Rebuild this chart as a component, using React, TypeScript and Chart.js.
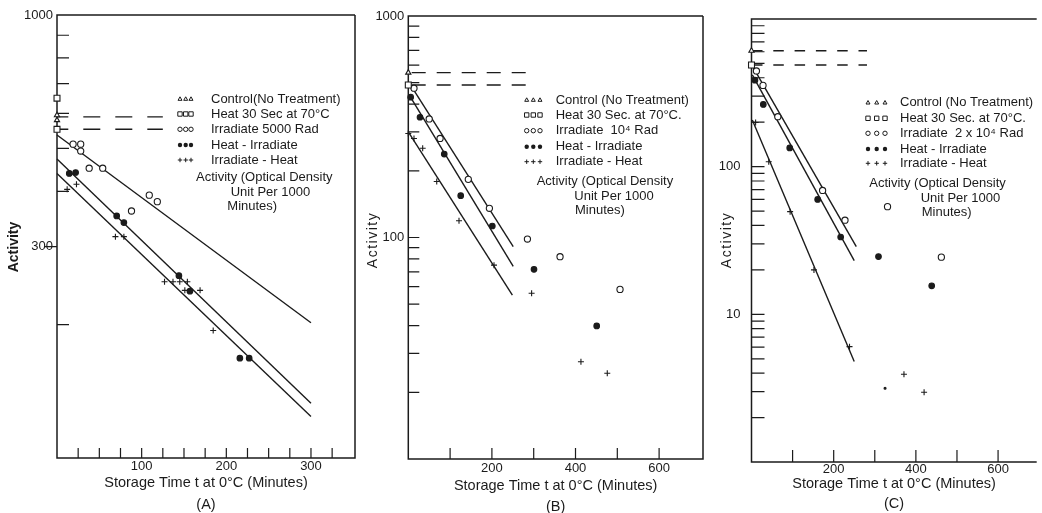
import React, { useEffect, useRef } from 'react';
import { Chart, registerables } from 'chart.js';

Chart.register(...registerables);

const W = 1042;
const H = 513;
const FONT = '"Liberation Sans", Arial, sans-serif';
const INK = '#1b1b1b';

// ---------- Panel A: Irradiate 5000 Rad ----------
const tA_irr = [19, 28, 28, 38, 54, 88, 109, 118.5];
const vA_irr = [511, 511, 493, 451, 451, 361, 392, 379];
const tA_hi = [14.5, 22, 70.5, 79, 144, 157, 216, 227];
const vA_hi = [439, 441, 352, 340, 258, 238, 168, 168];
const tA_ih = [12, 23, 69, 79, 127, 137, 145, 154, 151, 169, 184.5];
const vA_ih = [404, 415, 316, 316, 250, 250, 250, 250, 239, 239, 194];
const vA_control = [594, 579];
const vA_heat = [649, 552];
const vA_levels = [589, 552];
const tA_levelEnd = 125;
const tA_fit = [0, 300];
const vA_fitIrr = [536, 202];
const vA_fitHi = [473, 133];
const vA_fitIh = [439, 124];
const xTicksA = [25, 50, 75, 100, 125, 150, 175, 200, 225, 250, 275, 300, 325];
const xLabelsA = [100, 200, 300];
const yTicksA = [200, 400, 500, 600, 700, 800, 900];
const yOuterTicksA = [300];
const yLabelsA = [300, 1000];
const legendA = ['Control(No Treatment)', 'Heat 30 Sec at 70°C', 'Irradiate 5000 Rad', 'Heat - Irradiate', 'Irradiate - Heat'];

// ---------- Panel B: Irradiate 10^4 Rad ----------
const tB_irr = [13.6, 50, 76, 143.5, 194, 285, 363, 506.5];
const vB_irr = [472, 343, 280, 183, 135.5, 98.4, 81.9, 58.3];
const tB_hi = [5.7, 28, 86, 125.4, 201, 300.7, 450.7];
const vB_hi = [430, 349, 238, 154.5, 112.7, 71.8, 39.9];
const tB_ih = [0, 13.6, 34.4, 68, 121.3, 205, 295, 413, 476];
const vB_ih = [295, 280, 253, 179, 119, 75, 56, 27.5, 24.4];
const vB_control = [555];
const vB_heat = [488];
const vB_levels = [555, 488];
const tB_levelEnd = 298;
const tB_fitIrr = [4, 251];
const vB_fitIrr = [493, 91];
const tB_fitHi = [2, 251];
const vB_fitHi = [440, 74];
const tB_fitIh = [0, 249];
const vB_fitIh = [300, 55];
const xTicksB = [100, 200, 300, 400, 500, 600];
const xLabelsB = [200, 400, 600];
const yTicksB = [20, 30, 40, 50, 60, 70, 80, 90, 100, 200, 300, 400, 500, 600, 700, 800, 900];
const yLabelsB = [100, 1000];
const legendB = ['Control (No Treatment)', 'Heat 30 Sec. at 70°C.', 'Irradiate  10⁴ Rad', 'Heat - Irradiate', 'Irradiate - Heat'];

// ---------- Panel C: Irradiate 2 x 10^4 Rad ----------
const tC_irr = [12, 28, 64, 173, 227.5, 331, 462];
const vC_irr = [445, 355, 218, 69, 43.4, 53.6, 24.4];
const tC_hi = [8.4, 28.7, 93, 161, 217, 309, 438.5];
const vC_hi = [385, 264, 134, 60, 33.4, 24.6, 15.6];
const tC_ih = [10, 42, 94, 152, 238.5, 371, 420];
const vC_ih = [199, 108, 49.6, 20, 6.04, 3.93, 2.97];
const tC_speck = [325];
const vC_speck = [3.16];
const vC_control = [610];
const vC_heat = [488];
const vC_levels = [610, 488];
const tC_levelEnd = 281;
const tC_fitIrr = [4, 255];
const vC_fitIrr = [471, 28.7];
const tC_fitHi = [2, 250];
const vC_fitHi = [418, 23.1];
const tC_fitIh = [2, 250];
const vC_fitIh = [207, 4.8];
const xTicksC = [100, 200, 300, 400, 500, 600];
const xLabelsC = [200, 400, 600];
const yTicksC = [2, 3, 4, 5, 6, 7, 8, 9, 10, 20, 30, 40, 50, 60, 70, 80, 90, 100, 200, 300, 400, 500, 600, 700, 800, 900];
const yLabelsC = [10, 100];
const legendC = ['Control (No Treatment)', 'Heat 30 Sec. at 70°C.', 'Irradiate  2 x 10⁴ Rad', 'Heat - Irradiate', 'Irradiate - Heat'];

const unitNote = ['Activity (Optical Density', 'Unit Per 1000', 'Minutes)'];
const xTitle = 'Storage Time t at 0°C (Minutes)';
const yTitle = 'Activity';
const legendSymbols = ['tri', 'sq', 'ring', 'dot', 'plus'];

const pts = (t: number[], v: number[]) => t.map((x, i) => ({ x, y: v[i] }));

function markers(t: number[], v: number[], style: string, filled: boolean, r: number) {
  return {
    data: pts(t, v),
    showLine: false,
    pointStyle: style,
    pointRadius: r,
    pointBorderColor: INK,
    pointBackgroundColor: filled ? INK : '#ffffff',
    pointBorderWidth: 1.1,
    clip: false,
    order: 0,
  };
}

function segment(t: number[], v: number[], dash: number[] = [], dashOffset = 0) {
  return {
    data: pts(t, v),
    showLine: true,
    pointRadius: 0,
    borderColor: INK,
    borderWidth: 1.4,
    borderDash: dash,
    borderDashOffset: dashOffset,
    fill: false,
    clip: false,
    order: 1,
  };
}

function levels(vals: number[], end: number, dash: number[], off: number) {
  return vals.map((v) => segment([0, end], [v, v], dash, off));
}

function drawSym(ctx: CanvasRenderingContext2D, kind: string, x: number, y: number, r: number) {
  ctx.beginPath();
  if (kind === 'tri') {
    ctx.moveTo(x, y - r);
    ctx.lineTo(x + r * 0.9, y + r * 0.6);
    ctx.lineTo(x - r * 0.9, y + r * 0.6);
    ctx.closePath();
    ctx.stroke();
  } else if (kind === 'sq') {
    ctx.rect(x - r, y - r, 2 * r, 2 * r);
    ctx.stroke();
  } else if (kind === 'ring') {
    ctx.arc(x, y, r, 0, Math.PI * 2);
    ctx.stroke();
  } else if (kind === 'dot') {
    ctx.arc(x, y, r, 0, Math.PI * 2);
    ctx.fill();
  } else {
    ctx.moveTo(x - r, y);
    ctx.lineTo(x + r, y);
    ctx.moveTo(x, y - r);
    ctx.lineTo(x, y + r);
    ctx.stroke();
  }
}

interface Spec {
  id: string;
  area: { left: number; top: number; right: number; bottom: number };
  xMax: number;
  yMin: number;
  yMax: number;
  xTicks: number[];
  xLabels: number[];
  yTicks: number[];
  yOuterTicks: number[];
  yLabels: number[];
  xTickLen: number;
  yTickLen: number;
  yLabelPad: number;
  xLabelPad: number;
  rightBorder: boolean;
  titleLines: string[];
  titleLH: number;
  titlePadBottom: number;
  yTitlePos: { x: number; y: number; bold: boolean; spacing: number };
  legend: { symX: number[]; textX: number; rows: number[]; texts: string[]; noteX: number[]; noteY: number[] };
  datasets: any[];
}

function panelPlugin(spec: Spec) {
  return {
    id: 'panel-' + spec.id,
    beforeDatasetsDraw(chart: any) {
      const { ctx, chartArea: a } = chart;
      const xs = chart.scales.x;
      const ys = chart.scales.y;
      ctx.save();
      ctx.strokeStyle = INK;
      ctx.lineWidth = 1.5;
      ctx.beginPath();
      ctx.moveTo(a.right, a.top);
      ctx.lineTo(a.left, a.top);
      ctx.lineTo(a.left, a.bottom);
      ctx.lineTo(a.right, a.bottom);
      if (spec.rightBorder) ctx.lineTo(a.right, a.top);
      ctx.stroke();
      ctx.lineWidth = 1.2;
      ctx.beginPath();
      spec.yTicks.forEach((v) => {
        const y = ys.getPixelForValue(v);
        ctx.moveTo(a.left, y);
        ctx.lineTo(a.left + spec.yTickLen, y);
      });
      spec.yOuterTicks.forEach((v) => {
        const y = ys.getPixelForValue(v);
        ctx.moveTo(a.left - spec.yTickLen, y);
        ctx.lineTo(a.left, y);
      });
      spec.xTicks.forEach((v) => {
        const x = xs.getPixelForValue(v);
        ctx.moveTo(x, a.bottom);
        ctx.lineTo(x, a.bottom - spec.xTickLen);
      });
      ctx.stroke();
      ctx.restore();
    },
    afterDraw(chart: any) {
      const { ctx } = chart;
      const lg = spec.legend;
      ctx.save();
      ctx.fillStyle = INK;
      ctx.strokeStyle = INK;
      ctx.lineWidth = 1;
      ctx.font = `13px ${FONT}`;
      ctx.textBaseline = 'middle';
      ctx.textAlign = 'left';
      lg.rows.forEach((y, i) => {
        lg.symX.forEach((x) => drawSym(ctx, legendSymbols[i], x, y, 2.2));
        ctx.fillText(lg.texts[i], lg.textX, y);
      });
      unitNote.forEach((s, i) => ctx.fillText(s, lg.noteX[i], lg.noteY[i]));

      const yt = spec.yTitlePos;
      ctx.translate(yt.x, yt.y);
      ctx.rotate(-Math.PI / 2);
      ctx.font = `${yt.bold ? 'bold ' : ''}14px ${FONT}`;
      (ctx as any).letterSpacing = `${yt.spacing}px`;
      ctx.textAlign = 'center';
      ctx.fillText(yTitle, 0, 0);
      ctx.restore();
    },
  };
}

function buildConfig(spec: Spec): any {
  const { area } = spec;
  return {
    type: 'scatter',
    data: { datasets: spec.datasets },
    options: {
      responsive: false,
      animation: false,
      events: [],
      layout: { padding: { left: 0, top: area.top, right: W - area.right, bottom: 0 } },
      plugins: { legend: { display: false }, tooltip: { enabled: false } },
      scales: {
        x: {
          type: 'linear',
          min: 0,
          max: spec.xMax,
          afterBuildTicks: (s: any) => {
            s.ticks = spec.xLabels.map((value) => ({ value }));
          },
          afterFit: (s: any) => {
            s.height = H - area.bottom;
          },
          ticks: {
            autoSkip: false,
            maxRotation: 0,
            padding: spec.xLabelPad,
            color: INK,
            font: { family: FONT, size: 13 },
            callback: (v: number) => String(v),
          },
          grid: { display: false, drawTicks: false },
          border: { display: false },
          title: {
            display: true,
            text: spec.titleLines,
            color: INK,
            font: { family: FONT, size: 14.5, lineHeight: spec.titleLH / 14.5 },
            padding: { top: 0, bottom: spec.titlePadBottom },
          },
        },
        y: {
          type: 'logarithmic',
          min: spec.yMin,
          max: spec.yMax,
          afterBuildTicks: (s: any) => {
            s.ticks = spec.yLabels.map((value) => ({ value }));
          },
          afterFit: (s: any) => {
            s.width = area.left;
          },
          ticks: {
            autoSkip: false,
            padding: spec.yLabelPad,
            color: INK,
            font: { family: FONT, size: 13 },
            callback: (v: number) => String(v),
          },
          grid: { display: false, drawTicks: false },
          border: { display: false },
        },
      },
    },
    plugins: [panelPlugin(spec)],
  };
}

const specA: Spec = {
  id: 'A',
  area: { left: 57, top: 15, right: 355, bottom: 458 },
  xMax: 352,
  yMin: 100,
  yMax: 1000,
  xTicks: xTicksA,
  xLabels: xLabelsA,
  yTicks: yTicksA,
  yOuterTicks: yOuterTicksA,
  yLabels: yLabelsA,
  xTickLen: 10,
  yTickLen: 12,
  yLabelPad: 4,
  xLabelPad: 1,
  rightBorder: true,
  titleLines: [xTitle, '(A)'],
  titleLH: 21.7,
  titlePadBottom: -2.8,
  yTitlePos: { x: 14, y: 247, bold: true, spacing: 0 },
  legend: {
    symX: [180, 185.7, 191],
    textX: 211,
    rows: [99, 114, 129.3, 145, 160],
    texts: legendA,
    noteX: [196, 230.7, 227.3],
    noteY: [177.7, 192.3, 206.7],
  },
  datasets: [
    markers([0, 0], vA_control, 'triangle', false, 3),
    markers([0, 0], vA_heat, 'rect', false, 4.2),
    markers(tA_irr, vA_irr, 'circle', false, 3.1),
    markers(tA_hi, vA_hi, 'circle', true, 2.8),
    markers(tA_ih, vA_ih, 'cross', false, 3),
    ...levels(vA_levels, tA_levelEnd, [17, 15], 5.7),
    segment(tA_fit, vA_fitIrr),
    segment(tA_fit, vA_fitHi),
    segment(tA_fit, vA_fitIh),
  ],
};

const specB: Spec = {
  id: 'B',
  area: { left: 408.3, top: 16, right: 703, bottom: 459 },
  xMax: 705,
  yMin: 10,
  yMax: 1000,
  xTicks: xTicksB,
  xLabels: xLabelsB,
  yTicks: yTicksB,
  yOuterTicks: [],
  yLabels: yLabelsB,
  xTickLen: 11,
  yTickLen: 11,
  yLabelPad: 4,
  xLabelPad: 2,
  rightBorder: true,
  titleLines: [xTitle, '(B)'],
  titleLH: 21,
  titlePadBottom: -4.5,
  yTitlePos: { x: 373, y: 240, bold: false, spacing: 1.5 },
  legend: {
    symX: [526.7, 533.3, 540],
    textX: 555.7,
    rows: [100, 115, 130.7, 146.7, 161.7],
    texts: legendB,
    noteX: [536.7, 574.3, 575],
    noteY: [181.7, 196.7, 210.7],
  },
  datasets: [
    markers([0], vB_control, 'triangle', false, 3),
    markers([0], vB_heat, 'rect', false, 4.2),
    markers(tB_irr, vB_irr, 'circle', false, 3.1),
    markers(tB_hi, vB_hi, 'circle', true, 2.8),
    markers(tB_ih, vB_ih, 'cross', false, 3),
    ...levels(vB_levels, tB_levelEnd, [14, 11], 21.6),
    segment(tB_fitIrr, vB_fitIrr),
    segment(tB_fitHi, vB_fitHi),
    segment(tB_fitIh, vB_fitIh),
  ],
};

const specC: Spec = {
  id: 'C',
  area: { left: 751.5, top: 19, right: 1042, bottom: 462 },
  xMax: 694,
  yMin: 1,
  yMax: 1000,
  xTicks: xTicksC,
  xLabels: xLabelsC,
  yTicks: yTicksC,
  yOuterTicks: [],
  yLabels: yLabelsC,
  xTickLen: 12,
  yTickLen: 13,
  yLabelPad: 11,
  xLabelPad: -0.5,
  rightBorder: false,
  titleLines: [xTitle, '(C)'],
  titleLH: 20,
  titlePadBottom: -0.5,
  yTitlePos: { x: 727, y: 240, bold: false, spacing: 1.5 },
  legend: {
    symX: [868, 876.7, 885],
    textX: 900,
    rows: [102.7, 118.3, 133.3, 149, 163.3],
    texts: legendC,
    noteX: [869.3, 920.7, 921.7],
    noteY: [183.3, 198.3, 212.7],
  },
  datasets: [
    markers([0], vC_control, 'triangle', false, 3),
    markers([0], vC_heat, 'rect', false, 4.2),
    markers(tC_irr, vC_irr, 'circle', false, 3.1),
    markers(tC_hi, vC_hi, 'circle', true, 2.8),
    markers(tC_ih, vC_ih, 'cross', false, 3),
    markers(tC_speck, vC_speck, 'circle', true, 1),
    ...levels(vC_levels, tC_levelEnd, [10.5, 10.8], 20.8),
    segment(tC_fitIrr, vC_fitIrr),
    segment(tC_fitHi, vC_fitHi),
    segment(tC_fitIh, vC_fitIh),
  ],
};

function Panel({ spec }: { spec: Spec }) {
  const ref = useRef<HTMLCanvasElement>(null);
  useEffect(() => {
    if (!ref.current) return;
    const chart = new Chart(ref.current, buildConfig(spec));
    return () => chart.destroy();
  }, [spec]);
  return (
    <canvas
      ref={ref}
      width={W}
      height={H}
      style={{ position: 'absolute', left: 0, top: 0, width: W, height: H }}
    />
  );
}

export default function App() {
  return (
    <div
      style={{
        position: 'fixed',
        left: 0,
        top: 0,
        width: W,
        height: H,
        background: '#ffffff',
        overflow: 'hidden',
      }}
    >
      <Panel spec={specA} />
      <Panel spec={specB} />
      <Panel spec={specC} />
    </div>
  );
}
